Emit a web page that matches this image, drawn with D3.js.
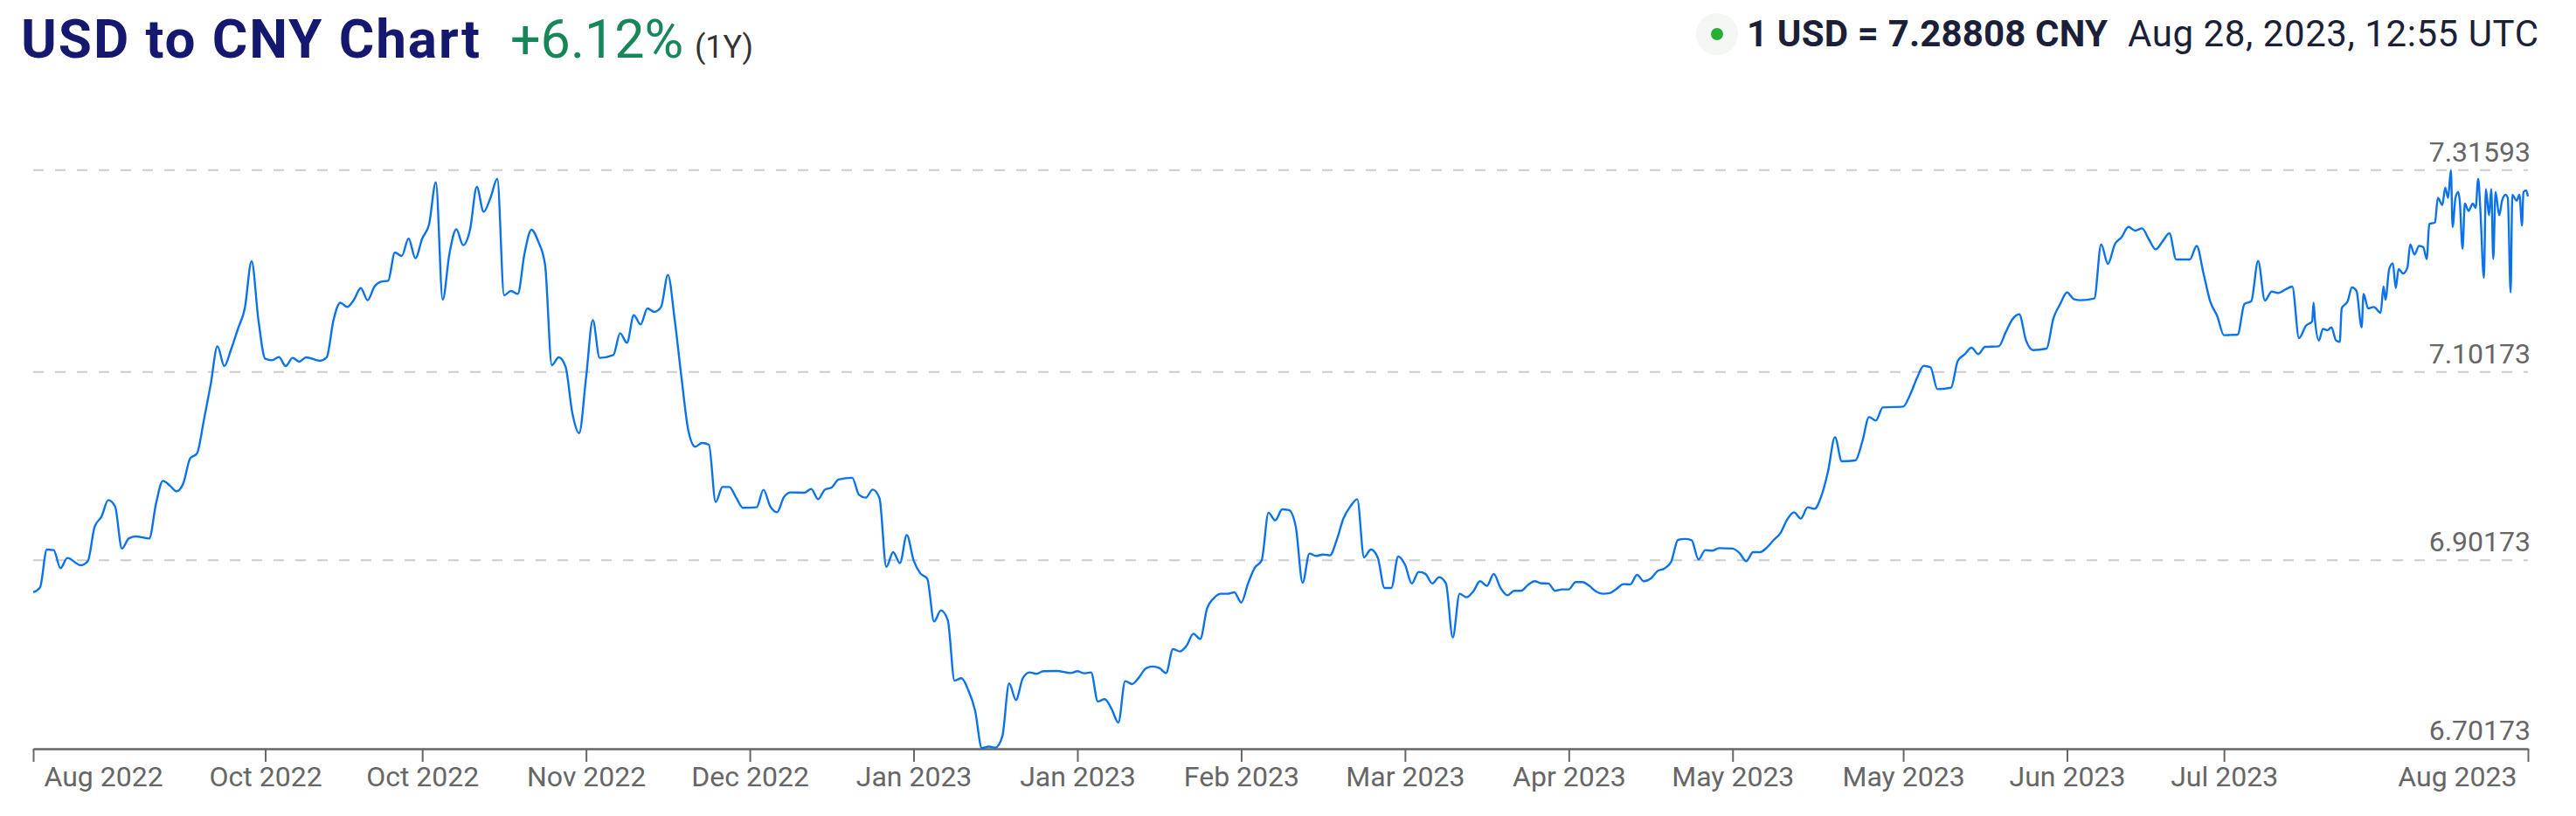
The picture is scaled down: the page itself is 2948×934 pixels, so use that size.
<!DOCTYPE html>
<html><head><meta charset="utf-8">
<script src="https://cdn.jsdelivr.net/npm/d3@7"></script>
<style>html,body{margin:0;padding:0;background:#fff;} svg{display:block;font-family:Roboto, "Noto Sans", sans-serif;}</style>
</head><body><svg id="chart" width="2948" height="934"></svg>
<script>
// ---------------- data ----------------
const titleText = "USD to CNY Chart";
const changeText = "+6.12%";
const periodText = "(1Y)";
const quoteText = "1 USD = 7.28808 CNY";
const stampText = "Aug 28, 2023, 12:55 UTC";

const dates = [
"2022-08-28","2022-08-29","2022-08-30","2022-08-31","2022-09-01","2022-09-02","2022-09-04","2022-09-05","2022-09-06","2022-09-07",
"2022-09-08","2022-09-09","2022-09-10","2022-09-11","2022-09-12","2022-09-14","2022-09-15","2022-09-16","2022-09-17","2022-09-18",
"2022-09-19","2022-09-20","2022-09-21","2022-09-22","2022-09-23","2022-09-24","2022-09-25","2022-09-26","2022-09-27","2022-09-28",
"2022-09-29","2022-09-30","2022-10-01","2022-10-02","2022-10-03","2022-10-04","2022-10-05","2022-10-06","2022-10-07","2022-10-09",
"2022-10-10","2022-10-11","2022-10-12","2022-10-13","2022-10-14","2022-10-15","2022-10-16","2022-10-17","2022-10-18","2022-10-19",
"2022-10-20","2022-10-21","2022-10-22","2022-10-23","2022-10-24","2022-10-25","2022-10-26","2022-10-27","2022-10-28","2022-10-29",
"2022-10-30","2022-10-31","2022-11-01","2022-11-02","2022-11-03","2022-11-04","2022-11-05","2022-11-06","2022-11-07","2022-11-08",
"2022-11-09","2022-11-10","2022-11-11","2022-11-12","2022-11-13","2022-11-14","2022-11-15","2022-11-16","2022-11-17","2022-11-18",
"2022-11-19","2022-11-21","2022-11-22","2022-11-23","2022-11-24","2022-11-25","2022-11-26","2022-11-27","2022-11-28","2022-11-29",
"2022-11-30","2022-12-01","2022-12-02","2022-12-03","2022-12-04","2022-12-05","2022-12-06","2022-12-07","2022-12-08","2022-12-09",
"2022-12-10","2022-12-12","2022-12-13","2022-12-14","2022-12-15","2022-12-16","2022-12-17","2022-12-19","2022-12-20","2022-12-21",
"2022-12-22","2022-12-23","2022-12-24","2022-12-26","2022-12-27","2022-12-28","2022-12-29","2022-12-30","2022-12-31","2023-01-01",
"2023-01-02","2023-01-03","2023-01-04","2023-01-05","2023-01-06","2023-01-07","2023-01-08","2023-01-09","2023-01-10","2023-01-11",
"2023-01-12","2023-01-13","2023-01-14","2023-01-15","2023-01-16","2023-01-17","2023-01-18","2023-01-19","2023-01-20","2023-01-21",
"2023-01-22","2023-01-23","2023-01-25","2023-01-27","2023-01-28","2023-01-29","2023-01-30","2023-01-31","2023-02-01","2023-02-02",
"2023-02-03","2023-02-04","2023-02-05","2023-02-06","2023-02-07","2023-02-08","2023-02-09","2023-02-10","2023-02-11","2023-02-12",
"2023-02-13","2023-02-14","2023-02-15","2023-02-16","2023-02-17","2023-02-18","2023-02-19","2023-02-20","2023-02-21","2023-02-22",
"2023-02-23","2023-02-24","2023-02-25","2023-02-26","2023-02-27","2023-02-28","2023-03-01","2023-03-02","2023-03-03","2023-03-04",
"2023-03-05","2023-03-06","2023-03-07","2023-03-08","2023-03-09","2023-03-10","2023-03-11","2023-03-12","2023-03-13","2023-03-14",
"2023-03-15","2023-03-16","2023-03-17","2023-03-18","2023-03-19","2023-03-20","2023-03-21","2023-03-22","2023-03-23","2023-03-24",
"2023-03-25","2023-03-26","2023-03-27","2023-03-28","2023-03-29","2023-03-30","2023-03-31","2023-04-01","2023-04-02","2023-04-03",
"2023-04-04","2023-04-05","2023-04-06","2023-04-07","2023-04-08","2023-04-09","2023-04-10","2023-04-11","2023-04-12","2023-04-13",
"2023-04-14","2023-04-15","2023-04-16","2023-04-17","2023-04-18","2023-04-19","2023-04-20","2023-04-21","2023-04-22","2023-04-23",
"2023-04-24","2023-04-25","2023-04-26","2023-04-27","2023-04-28","2023-04-29","2023-04-30","2023-05-01","2023-05-02","2023-05-04",
"2023-05-05","2023-05-06","2023-05-07","2023-05-08","2023-05-09","2023-05-10","2023-05-11","2023-05-12","2023-05-13","2023-05-14",
"2023-05-15","2023-05-16","2023-05-17","2023-05-18","2023-05-19","2023-05-20","2023-05-22","2023-05-23","2023-05-24","2023-05-25",
"2023-05-26","2023-05-29","2023-05-30","2023-05-31","2023-06-01","2023-06-02","2023-06-03","2023-06-05","2023-06-06","2023-06-07",
"2023-06-08","2023-06-09","2023-06-10","2023-06-12","2023-06-13","2023-06-14","2023-06-15","2023-06-16","2023-06-17","2023-06-19",
"2023-06-20","2023-06-21","2023-06-22","2023-06-23","2023-06-24","2023-06-26","2023-06-27","2023-06-28","2023-06-29","2023-06-30",
"2023-07-01","2023-07-02","2023-07-03","2023-07-04","2023-07-05","2023-07-06","2023-07-07","2023-07-08","2023-07-09","2023-07-10",
"2023-07-11","2023-07-12","2023-07-13","2023-07-14","2023-07-15","2023-07-16","2023-07-17","2023-07-18","2023-07-19","2023-07-20",
"2023-07-21","2023-07-22","2023-07-23","2023-07-24","2023-07-25","2023-07-26","2023-07-27",
"2023-07-27T22:00Z","2023-07-28T03:00Z","2023-07-28T08:00Z","2023-07-28T22:00Z","2023-07-29T12:00Z","2023-07-30T03:00Z","2023-07-30T18:00Z","2023-07-31T10:00Z","2023-07-31T23:00Z","2023-08-01T06:00Z",
"2023-08-02T03:00Z","2023-08-02T18:00Z","2023-08-03T10:00Z","2023-08-04T04:00Z","2023-08-04T11:00Z","2023-08-05T03:00Z","2023-08-05T23:00Z","2023-08-06T23:00Z","2023-08-07T09:00Z","2023-08-07T16:00Z",
"2023-08-08T05:00Z","2023-08-08T18:00Z","2023-08-09T04:00Z","2023-08-09T14:00Z","2023-08-10T06:00Z","2023-08-10T21:00Z","2023-08-11T07:00Z","2023-08-11T22:00Z","2023-08-12T14:00Z","2023-08-13T05:00Z",
"2023-08-13T17:00Z","2023-08-14T02:00Z","2023-08-14T22:00Z","2023-08-15T08:00Z","2023-08-16T00:00Z","2023-08-16T10:00Z","2023-08-16T20:00Z","2023-08-17T06:00Z","2023-08-17T12:00Z","2023-08-17T22:00Z",
"2023-08-18T08:00Z","2023-08-18T13:00Z","2023-08-18T23:00Z","2023-08-19T07:00Z","2023-08-19T20:00Z","2023-08-20T11:00Z","2023-08-20T21:00Z","2023-08-21T06:00Z","2023-08-21T13:00Z","2023-08-22T02:00Z",
"2023-08-22T09:00Z","2023-08-22T20:00Z","2023-08-23T04:00Z","2023-08-23T11:00Z","2023-08-23T19:00Z","2023-08-24T08:00Z","2023-08-24T18:00Z","2023-08-25T06:00Z","2023-08-25T14:00Z","2023-08-26T00:00Z",
"2023-08-26T06:00Z","2023-08-26T21:00Z","2023-08-27T07:00Z","2023-08-27T16:00Z","2023-08-27T21:00Z","2023-08-28T07:00Z","2023-08-28T12:55Z"
];

const rates = [
6.8678,6.8730,6.9132,6.9126,6.8934,6.9042,6.8965,6.9008,6.9373,6.9481,
6.9657,6.9589,6.9142,6.9249,6.9271,6.9249,6.9620,6.9861,6.9812,6.9750,
6.9837,7.0099,7.0152,7.0501,7.0881,7.1289,7.1079,7.1258,7.1474,7.1691,
7.2192,7.1567,7.1156,7.1141,7.1175,7.1079,7.1166,7.1126,7.1172,7.1135,
7.1172,7.1567,7.1752,7.1706,7.1784,7.1907,7.1778,7.1923,7.1975,7.1984,
7.2285,7.2248,7.2433,7.2223,7.2433,7.2582,7.3029,7.1784,7.2278,7.2531,
7.2362,7.2526,7.2980,7.2717,7.2865,7.3066,7.1830,7.1877,7.1845,7.2278,
7.2526,7.2402,7.2155,7.1089,7.1172,7.1073,7.0579,7.0368,7.0950,7.1567,
7.1166,7.1196,7.1428,7.1326,7.1620,7.1521,7.1691,7.1654,7.1706,7.2047,
7.1567,7.0950,7.0393,7.0223,7.0263,7.0245,6.9636,6.9796,6.9796,6.9682,
6.9574,6.9580,6.9766,6.9589,6.9527,6.9689,6.9738,6.9735,6.9775,6.9666,
6.9768,6.9791,6.9874,6.9893,6.9713,6.9682,6.9768,6.9676,6.8947,6.9104,
6.8987,6.9286,6.9017,6.8878,6.8823,6.8368,6.8486,6.8384,6.7741,6.7766,
6.7642,6.7426,6.7024,6.7040,6.7030,6.7148,6.7710,6.7534,6.7766,6.7828,
6.7812,6.7840,6.7843,6.7821,6.7840,6.7818,6.7828,6.7519,6.7543,6.7441,
6.7296,6.7735,6.7704,6.7772,6.7868,6.7890,6.7874,6.7821,6.8075,6.8050,
6.8112,6.8238,6.8183,6.8507,6.8616,6.8662,6.8662,6.8678,6.8569,6.8771,
6.8940,6.9017,6.9522,6.9441,6.9559,6.9550,6.9373,6.8780,6.9089,6.9064,
6.9079,6.9070,6.9234,6.9466,6.9589,6.9666,6.9049,6.9132,6.9049,6.8724,
6.8724,6.9058,6.8971,6.8771,6.8894,6.8873,6.8771,6.8838,6.8771,6.8199,
6.8662,6.8625,6.8687,6.8795,6.8746,6.8873,6.8724,6.8646,6.8693,6.8693,
6.8755,6.8795,6.8773,6.8771,6.8693,6.8709,6.8709,6.8786,6.8786,6.8746,
6.8687,6.8662,6.8669,6.8715,6.8764,6.8761,6.8863,6.8795,6.8823,6.8903,
6.8931,6.9002,6.9234,6.9244,6.9231,6.9027,6.9126,6.9119,6.9147,6.9142,
6.9095,6.9008,6.9104,6.9104,6.9151,6.9231,6.9305,6.9450,6.9527,6.9460,
6.9580,6.9564,6.9698,6.9967,7.0325,7.0069,7.0078,7.0276,7.0538,7.0501,
7.0640,7.0649,7.0773,7.0950,7.1082,7.1066,7.0835,7.0850,7.1135,7.1203,
7.1274,7.1206,7.1283,7.1289,7.1435,7.1576,7.1629,7.1351,7.1249,7.1265,
7.1583,7.1738,7.1861,7.1790,7.1778,7.1796,7.2371,7.2164,7.2371,7.2448,
7.2556,7.2517,7.2541,7.2424,7.2318,7.2402,7.2489,7.2211,7.2211,7.2211,
7.2355,7.2062,7.1762,7.1613,7.1407,7.1410,7.1413,7.1738,7.1768,7.2195,
7.1775,7.1870,7.1855,7.1892,7.1923,7.1376,7.1506,
7.1552,7.1752,7.1567,7.1351,7.1474,7.1460,7.1490,7.1351,7.1335,7.1691,
7.1768,7.1914,7.1877,7.1490,7.1845,7.1691,7.1706,7.1645,7.1923,7.1784,
7.2109,7.2170,7.1907,7.2109,7.2062,7.2123,7.2371,7.2263,7.2355,7.2340,
7.2216,7.2587,7.2603,7.2865,7.2788,7.2974,7.2865,7.3159,7.2556,7.2865,
7.2927,7.2835,7.2325,7.2804,7.2726,7.2804,7.2758,7.3066,7.2772,7.2016,
7.2958,7.2680,7.2958,7.2216,7.2927,7.2680,7.2835,7.2897,7.2865,7.1861,
7.2897,7.2835,7.2897,7.2572,7.2927,7.2943,7.28808
];

const yTickValues = [6.70173, 6.90173, 7.10173, 7.31593];
const xTickDates = ["2022-08-28","2022-10-01","2022-10-24","2022-11-17","2022-12-11","2023-01-04","2023-01-28",
  "2023-02-21","2023-03-17","2023-04-10","2023-05-04","2023-05-29","2023-06-22","2023-07-15","2023-08-28T12:55Z"];
const xDomain = ["2022-08-28T00:00Z", "2023-08-28T12:55Z"];

// ---------------- drawing ----------------
(function draw() {
  const svg = d3.select("#chart");
  const plotL = 38, plotR = 2893, plotT = 194.7, plotB = 857;

  const parse = s => new Date(s.length === 10 ? s + "T00:00:00Z" : s);
  const n = Math.min(dates.length, rates.length);
  const data = d3.range(n).map(i => ({ t: parse(dates[i]), v: rates[i] }));

  const x = d3.scaleUtc().domain(xDomain.map(parse)).range([plotL, plotR]);
  const y = d3.scaleLinear().domain([yTickValues[0], yTickValues[yTickValues.length - 1]]).range([plotB, plotT]);

  // grid
  svg.append("g").selectAll("line").data(yTickValues.slice(1)).join("line")
    .attr("x1", plotL).attr("x2", plotR)
    .attr("y1", d => y(d)).attr("y2", d => y(d))
    .attr("stroke", "#cccccc").attr("stroke-width", 2).attr("stroke-dasharray", "12,13");

  // y labels
  svg.append("g").selectAll("text").data(yTickValues).join("text")
    .attr("x", plotR + 3).attr("y", d => y(d) - 10)
    .attr("text-anchor", "end").attr("font-size", 32).attr("fill", "#666666")
    .text(d => d3.format(".5f")(d));

  // x axis
  const fmt = d3.utcFormat("%b %Y");
  const tickDates = xTickDates.map(parse);
  const xAxis = d3.axisBottom(x).tickValues(tickDates).tickSize(15).tickSizeOuter(0).tickFormat(fmt);
  const gx = svg.append("g").attr("transform", `translate(0,${plotB})`).call(xAxis);
  gx.select(".domain").attr("stroke", "#666666").attr("stroke-width", 2.5);
  gx.selectAll(".tick line").attr("stroke", "#666666").attr("stroke-width", 2);
  const nT = tickDates.length;
  gx.selectAll(".tick text").attr("font-size", 32).attr("fill", "#666666")
    .attr("font-family", "Roboto, sans-serif").attr("y", 20).attr("dy", "0.71em")
    .each(function(d, i) {
      const el = d3.select(this);
      if (i === 0) el.attr("text-anchor", "start").attr("x", 12);
      else if (i === nT - 1) el.attr("text-anchor", "end").attr("x", -13);
      else el.attr("text-anchor", "middle");
    });

  // line
  const line = d3.line().x(d => x(d.t)).y(d => y(d.v)).curve(d3.curveMonotoneX);
  svg.append("path").datum(data)
    .attr("d", line).attr("fill", "none")
    .attr("stroke", "#0b73ea").attr("stroke-width", 2.4).attr("stroke-linejoin", "round");

  // header: fit text runs to the widths measured in the reference
  function fitText(el, targetWidth) {
    const node = el.node();
    const len = node.getComputedTextLength();
    const chars = node.textContent.length;
    if (chars > 1 && len > 0) el.attr("letter-spacing", (targetWidth - len) / (chars - 1));
    return el;
  }
  fitText(svg.append("text").attr("x", 24).attr("y", 66).attr("font-size", 62).attr("font-weight", 700)
    .attr("fill", "#14186e").text(titleText), 525);
  svg.append("text").attr("x", 584).attr("y", 66).attr("font-size", 61)
    .attr("fill", "#17875a").text(changeText);
  svg.append("text").attr("x", 795).attr("y", 66).attr("font-size", 36)
    .attr("fill", "#333333").text(periodText);

  svg.append("circle").attr("cx", 1965).attr("cy", 39).attr("r", 24).attr("fill", "#f4f6f4");
  svg.append("circle").attr("cx", 1965).attr("cy", 39).attr("r", 7).attr("fill", "#27ae35");
  fitText(svg.append("text").attr("x", 1999).attr("y", 53).attr("font-size", 42).attr("font-weight", 700)
    .attr("fill", "#1b1f38").text(quoteText), 413);
  fitText(svg.append("text").attr("x", 2435).attr("y", 53).attr("font-size", 42)
    .attr("fill", "#1b1f38").text(stampText), 470);
})();
</script>
</body></html>
